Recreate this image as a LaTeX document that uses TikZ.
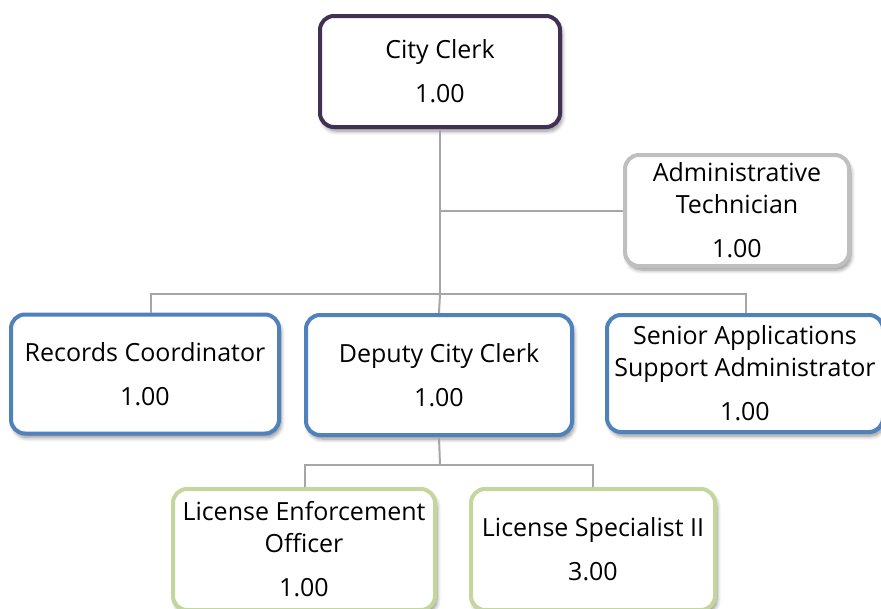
\documentclass[tikz,border=0pt]{standalone}
\usepackage{fontspec}
\setmainfont{Open Sans}
\usetikzlibrary{shadows.blur}
\definecolor{cpurple}{HTML}{403152}
\definecolor{cgray}{HTML}{BFBFBF}
\definecolor{cblue}{HTML}{4F81BD}
\definecolor{cgreen}{HTML}{C3D69B}
\definecolor{cline}{HTML}{A6A6A6}
\tikzset{
  box/.style={draw, line width=4pt, rounded corners=14pt, fill=white, align=center,
    font=\fontsize{25}{32}\selectfont, inner sep=0pt,
    blur shadow={shadow xshift=2pt, shadow yshift=-4pt, shadow blur steps=6, shadow opacity=45, shadow blur radius=4pt}},
  conn/.style={draw=cline, line width=2pt},
}
\begin{document}
\begin{tikzpicture}[x=1pt,y=-1pt]
\useasboundingbox (0,0) rectangle (881,608);
\clip (0,0) rectangle (881,608);
\coordinate (bus) at (440,294);
\coordinate (rcd) at (151,294);
\coordinate (sad) at (746,294);
\coordinate (bus2) at (440,465);
\coordinate (led) at (305,465);
\coordinate (lsd) at (593,465);
\node[box, draw=cpurple, minimum width=240pt, minimum height=111pt] (cc) at (440,71.5) {City Clerk\\[12pt]1.00};
\node[box, draw=cgray, minimum width=224pt, minimum height=111pt] (at) at (737,210.5) {Administrative\\Technician\\[12pt]1.00};
\node[box, draw=cblue, minimum width=268pt, minimum height=119pt] (rc) at (145,374) {Records Coordinator\\[12pt]1.00};
\node[box, draw=cblue, minimum width=266pt, minimum height=120pt] (dc) at (439,375) {Deputy City Clerk\\[12pt]1.00};
\node[box, draw=cblue, minimum width=276pt, minimum height=117pt] (sa) at (745,373.5) {Senior Applications\\Support Administrator\\[12pt]1.00};
\node[box, draw=cgreen, minimum width=262pt, minimum height=121pt] (le) at (304,549.5) {License Enforcement\\Officer\\[12pt]1.00};
\node[box, draw=cgreen, minimum width=244pt, minimum height=121pt] (ls) at (593,549.5) {License Specialist II\\[12pt]3.00};
\path[conn] (cc.south) -- (bus);
\path[conn] (cc.south |- at.west) -- (at.west);
\path[conn] (rcd |- rc.north) -- (rcd) -- (sad) -- (sad |- sa.north);
\path[conn] (bus) -- (dc.north);
\path[conn] (dc.south) -- (bus2);
\path[conn] (led |- le.north) -- (led) -- (lsd) -- (lsd |- ls.north);
\end{tikzpicture}
\end{document}
